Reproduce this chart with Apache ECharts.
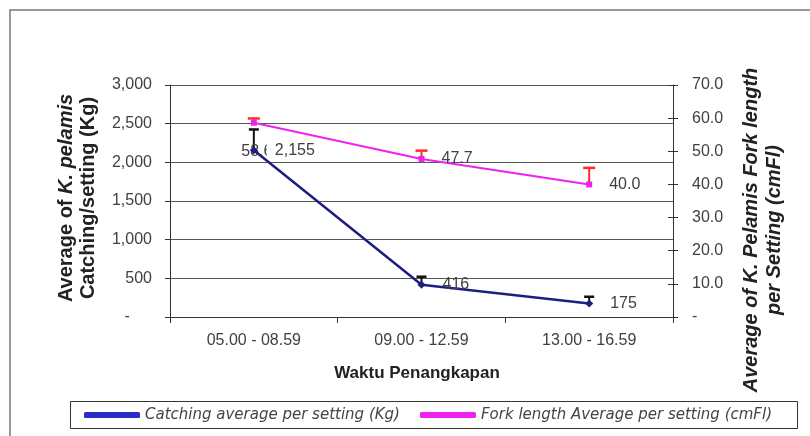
<!DOCTYPE html>
<html><head><meta charset="utf-8">
<script src="https://cdn.jsdelivr.net/npm/echarts@6/dist/echarts.min.js"></script>
<style>html,body{margin:0;padding:0;background:#fff}#c{width:810px;height:436px}</style>
</head><body><div id="c"></div>
<script>
const categories = ['05.00 - 08.59', '09.00 - 12.59', '13.00 - 16.59'];
const catchAvg = [2155, 416, 175];
const catchErr = [270, 105, 87];
const forkAvg = [58.6, 47.7, 40.0];
const forkErr = [1.3, 2.5, 5.0];
const leftTicks = { min: 0, max: 3000, interval: 500 };
const rightTicks = { min: 0, max: 70, interval: 10 };
const seriesNames = ['Catching average per setting (Kg)', 'Fork length Average per setting (cmFl)'];

const SANS = '"Liberation Sans", Arial, sans-serif';
const chart = echarts.init(document.getElementById('c'), null, { renderer: 'canvas' });

function errSeries(yIdx, vals, errs, color, capW) {
  return {
    type: 'custom', xAxisIndex: 0, yAxisIndex: yIdx, silent: true, z: 3,
    data: vals.map((v, i) => [i, v, v + errs[i]]),
    encode: { x: 0, y: [1, 2] },
    renderItem: function (params, api) {
      const p0 = api.coord([api.value(0), api.value(1)]);
      const p1 = api.coord([api.value(0), api.value(2)]);
      return { type: 'group', children: [
        { type: 'line', shape: { x1: p0[0], y1: p0[1], x2: p1[0], y2: p1[1] }, style: { stroke: color, lineWidth: 2 } },
        { type: 'line', shape: { x1: p1[0] - capW / 2, y1: p1[1], x2: p1[0] + capW / 2, y2: p1[1] }, style: { stroke: color, lineWidth: 2.5 } }
      ] };
    }
  };
}

const labelStyle = { show: true, position: 'right', distance: 17, color: '#404040', fontSize: 16, fontFamily: SANS };

const option = {
  animation: false,
  backgroundColor: '#fff',
  grid: { left: 170, right: 137, top: 85, bottom: 119 },
  legend: {
    data: [
      { name: seriesNames[0], itemStyle: { color: '#2b2bc8' } },
      { name: seriesNames[1], itemStyle: { color: '#ee22ee' } }
    ],
    left: 84, top: 406, padding: 0, itemWidth: 56, itemHeight: 6, itemGap: 20,
    icon: 'roundRect',
    textStyle: { fontFamily: '"DejaVu Sans", Verdana, sans-serif', fontStyle: 'italic', fontSize: 15, color: '#444', lineHeight: 18 }
  },
  xAxis: {
    type: 'category', data: categories, boundaryGap: true,
    axisLine: { lineStyle: { color: '#333', width: 1 } },
    axisTick: { show: true, length: 6, lineStyle: { color: '#333' } },
    axisLabel: { color: '#404040', fontSize: 16, fontFamily: SANS, margin: 16 }
  },
  yAxis: [
    {
      type: 'value', position: 'left', min: leftTicks.min, max: leftTicks.max, interval: leftTicks.interval,
      axisLine: { show: true, lineStyle: { color: '#333', width: 1 } },
      axisTick: { show: true, length: 5, lineStyle: { color: '#333' } },
      splitLine: { show: true, lineStyle: { color: '#555', width: 1 } },
      axisLabel: { color: '#404040', fontSize: 16, fontFamily: SANS, margin: 18,
        formatter: v => v === 0 ? '-     ' : v.toLocaleString('en-US') }
    },
    {
      type: 'value', position: 'right', min: rightTicks.min, max: rightTicks.max, interval: rightTicks.interval,
      axisLine: { show: true, lineStyle: { color: '#333', width: 1 } },
      axisTick: { show: true, length: 5, lineStyle: { color: '#333' } },
      splitLine: { show: false },
      axisLabel: { color: '#404040', fontSize: 16, fontFamily: SANS, margin: 19,
        formatter: v => v === 0 ? '-' : v.toFixed(1) }
    },
    {
      type: 'value', position: 'right', min: rightTicks.min, max: rightTicks.max, interval: rightTicks.interval,
      axisLine: { show: false },
      axisTick: { show: true, inside: true, length: 5, lineStyle: { color: '#333' } },
      splitLine: { show: false }, axisLabel: { show: false }
    }
  ],
  series: [
    {
      name: seriesNames[1], type: 'line', yAxisIndex: 1, data: forkAvg.map((v, i) => i === 0 ? { value: v, label: { position: 'inside', offset: [3, 29] } } : v), z: 4,
      symbol: 'rect', symbolSize: 6,
      lineStyle: { color: '#ee22ee', width: 2 }, itemStyle: { color: '#ee22ee' },
      label: Object.assign({}, labelStyle, { formatter: p => Number(p.value).toFixed(1) })
    },
    {
      name: seriesNames[0], type: 'line', yAxisIndex: 0, data: catchAvg.map((v, i) => i === 0 ? { value: v, label: { backgroundColor: '#fff', padding: [0, 0, 0, 8], distance: 9 } } : v), z: 5,
      symbol: 'diamond', symbolSize: 8,
      lineStyle: { color: '#1e1e80', width: 2.5 }, itemStyle: { color: '#1e1e80' },
      label: Object.assign({}, labelStyle, { formatter: p => p.value.toLocaleString('en-US') })
    },
    errSeries(0, catchAvg, catchErr, '#111', 10),
    errSeries(1, forkAvg, forkErr, '#ff2a2a', 12)
  ],
  graphic: [
    { type: 'rect', silent: true, z: -1, shape: { x: 10, y: 10, width: 830, height: 460 }, style: { fill: 'none', stroke: '#777', lineWidth: 1.5 } },
    { type: 'rect', silent: true, shape: { x: 70.5, y: 401.5, width: 727, height: 27 }, style: { fill: 'none', stroke: '#333', lineWidth: 1 } },
    { type: 'text', silent: true, x: 77, y: 198, rotation: Math.PI / 2,
      style: { text: '{a|Average of }{i|K. pelamis}\n{a|Catching/setting (Kg)}', align: 'center', verticalAlign: 'middle',
        rich: {
          a: { fontFamily: SANS, fontWeight: 'bold', fontSize: 20, fill: '#222', lineHeight: 22 },
          i: { fontFamily: SANS, fontWeight: 'bold', fontStyle: 'italic', fontSize: 20, fill: '#222', lineHeight: 22 }
        } } },
    { type: 'text', silent: true, x: 763, y: 230, rotation: Math.PI / 2,
      style: { text: 'Average of K. Pelamis Fork length\nper Setting (cmFl)', align: 'center', verticalAlign: 'middle',
        fontFamily: SANS, fontWeight: 'bold', fontStyle: 'italic', fontSize: 20, fill: '#222', lineHeight: 23 } },
    { type: 'text', silent: true, x: 417, y: 373,
      style: { text: 'Waktu Penangkapan', align: 'center', verticalAlign: 'middle',
        fontFamily: SANS, fontWeight: 'bold', fontSize: 17, fill: '#222' } }
  ]
};
chart.setOption(option);
</script></body></html>
